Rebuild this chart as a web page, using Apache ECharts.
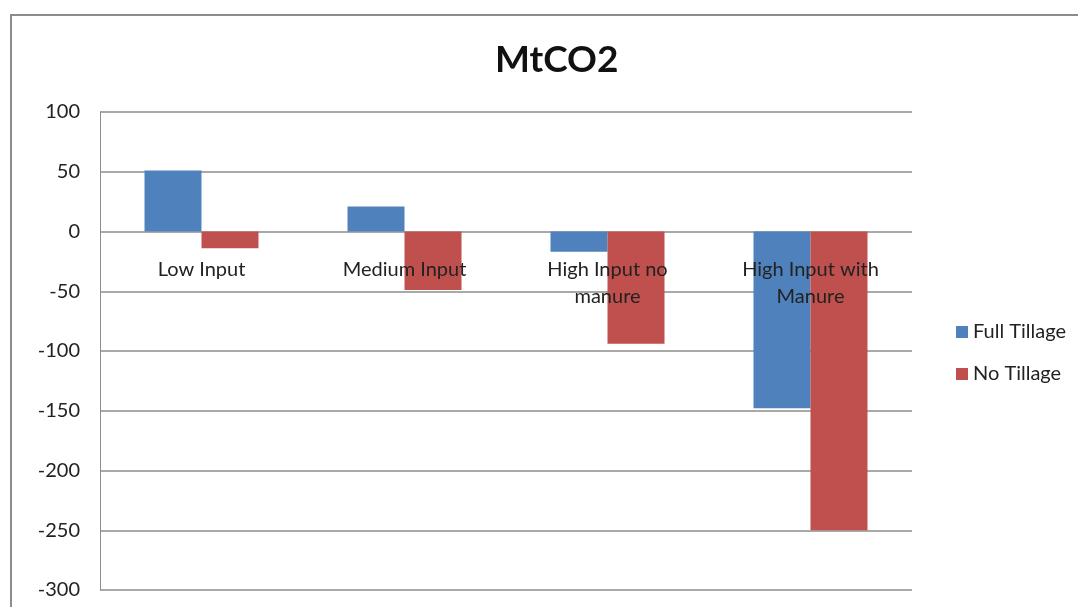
<!DOCTYPE html>
<html>
<head>
<meta charset="utf-8">
<script src="https://cdn.jsdelivr.net/npm/echarts@6/dist/echarts.min.js"></script>
<style>
  html, body { margin: 0; padding: 0; background: #fff; }
  #chart { width: 1078px; height: 607px; }
</style>
</head>
<body>
<div id="chart"></div>
<script>
const categories = ['Low Input', 'Medium Input', 'High Input no\nmanure', 'High Input with\nManure'];
const fullTillage = [51, 21, -17, -148];
const noTillage = [-14, -49, -94, -250];
const yTicks = { min: -300, max: 100, interval: 50 };

const font = 'Lato, "Open Sans", sans-serif';
const chart = echarts.init(document.getElementById('chart'));

// plot area: top 112, height 478 -> zero line sits 358.5px above the bottom
const zeroOffset = -(478 * (0 - yTicks.min) / (yTicks.max - yTicks.min));

chart.setOption({
  animation: false,
  graphic: [{
    type: 'rect',
    shape: { x: 11, y: 15, width: 1200, height: 800 },
    style: { fill: 'none', stroke: '#8c8c8c', lineWidth: 2 },
    silent: true
  }],
  title: {
    text: 'MtCO2',
    left: 490,
    top: 37,
    textStyle: { fontFamily: font, fontSize: 37, fontWeight: 'bold', color: '#111' }
  },
  legend: {
    orient: 'vertical',
    left: 951,
    top: 317,
    itemWidth: 12,
    itemHeight: 12,
    itemGap: 22,
    icon: 'rect',
    textStyle: { fontFamily: font, fontSize: 20, color: '#222' },
    data: ['Full Tillage', 'No Tillage']
  },
  grid: { left: 100, right: 166, top: 112, bottom: 17, outerBoundsMode: 'none' },
  xAxis: {
    type: 'category',
    data: categories,
    offset: zeroOffset,
    axisLine: { show: false, onZero: false },
    axisTick: { show: false },
    axisLabel: {
      margin: 25,
      fontFamily: font,
      fontSize: 20,
      lineHeight: 27,
      color: '#222'
    },
    z: 5
  },
  yAxis: {
    type: 'value',
    min: yTicks.min,
    max: yTicks.max,
    interval: yTicks.interval,
    axisLine: { show: true, lineStyle: { color: '#8c8c8c' } },
    axisTick: { show: false },
    axisLabel: { margin: 20, fontFamily: font, fontSize: 20, color: '#222' },
    splitLine: { lineStyle: { color: '#8c8c8c', width: 1.5 } }
  },
  series: [
    {
      name: 'Full Tillage',
      type: 'bar',
      data: fullTillage,
      barWidth: 57,
      barGap: '0%',
      itemStyle: { color: '#4F81BD' }
    },
    {
      name: 'No Tillage',
      type: 'bar',
      data: noTillage,
      barWidth: 57,
      barGap: '0%',
      itemStyle: { color: '#C0504D' }
    }
  ]
});
</script>
</body>
</html>
